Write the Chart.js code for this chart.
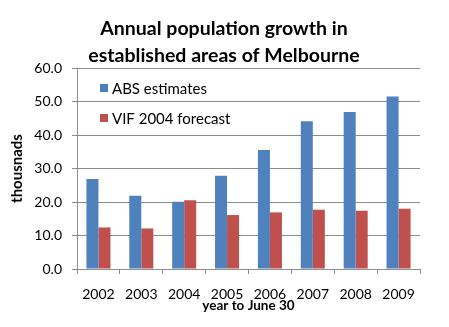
<!DOCTYPE html>
<html>
<head>
<meta charset="utf-8">
<script src="https://cdn.jsdelivr.net/npm/chart.js@4"></script>
<style>
  html, body { margin: 0; padding: 0; background: #fff; }
  #wrap { width: 449px; height: 327px; }
</style>
</head>
<body>
<div id="wrap"><canvas id="growth" width="449" height="327"></canvas></div>
<script>
const years = ['2002', '2003', '2004', '2005', '2006', '2007', '2008', '2009'];
const absEstimates = [26.9, 21.9, 20.1, 27.8, 35.5, 44.1, 46.9, 51.5];
const vifForecast = [12.4, 12.1, 20.5, 16.1, 16.9, 17.7, 17.4, 18.0];
const titleLines = ['Annual population growth in', 'established areas of Melbourne'];

const FONT = 'Lato, "Open Sans", sans-serif';
const GRID = '#8c8c8c';

// two-line heading above the plot
const titlePlugin = {
  id: 'headline',
  afterDraw(chart) {
    const c = chart.ctx;
    c.save();
    c.fillStyle = '#000';
    c.font = 'bold 19.5px ' + FONT;
    c.textAlign = 'center';
    c.textBaseline = 'alphabetic';
    c.fillText(titleLines[0], 224, 35);
    c.fillText(titleLines[1], 224, 61.5);
    c.restore();
  }
};

// legend sitting inside the plot, top left
const boxLegend = {
  id: 'boxLegend',
  afterDatasetsDraw(chart) {
    const c = chart.ctx;
    const x = chart.chartArea.left + 23;
    const rows = [84, 114];
    c.save();
    c.font = '15px ' + FONT;
    c.textBaseline = 'alphabetic';
    chart.data.datasets.forEach((ds, i) => {
      c.fillStyle = ds.backgroundColor;
      c.fillRect(x, rows[i], 8, 8);
      c.fillStyle = '#000';
      c.fillText(ds.label, x + 12, rows[i] + 9.5);
    });
    c.restore();
  }
};

new Chart(document.getElementById('growth'), {
  type: 'bar',
  data: {
    labels: years,
    datasets: [
      { label: 'ABS estimates', data: absEstimates, backgroundColor: '#4f81bd' },
      { label: 'VIF 2004 forecast', data: vifForecast, backgroundColor: '#c0504d' }
    ]
  },
  options: {
    responsive: false,
    animation: false,
    layout: { padding: { top: 68, left: 8, right: 29, bottom: 0 } },
    datasets: { bar: { categoryPercentage: 0.56, barPercentage: 1.0 } },
    plugins: {
      legend: { display: false },
      title: { display: false },
      tooltip: { enabled: false }
    },
    scales: {
      x: {
        grid: { drawOnChartArea: false, drawTicks: true, tickLength: 5, color: GRID, offset: true },
        border: { color: GRID },
        ticks: { color: '#000', font: { family: FONT, size: 14 }, padding: 12, maxRotation: 0 },
        title: {
          display: true, text: 'year to June 30', color: '#000',
          font: { family: FONT, size: 13.5, weight: 'bold' },
          padding: { top: 0, bottom: 13 }
        },
        afterFit(scale) { scale.height = 58; }
      },
      y: {
        min: 0, max: 60,
        grid: { color: GRID, tickLength: 5 },
        border: { color: GRID },
        ticks: {
          stepSize: 10, color: '#000', padding: 10,
          font: { family: FONT, size: 14 },
          callback: v => v.toFixed(1)
        },
        title: {
          display: true, text: 'thousnads', color: '#000',
          font: { family: FONT, size: 15, weight: 'bold' },
          padding: 0
        },
        afterFit(scale) { scale.width = 69; }
      }
    }
  },
  plugins: [titlePlugin, boxLegend]
});
</script>
</body>
</html>
